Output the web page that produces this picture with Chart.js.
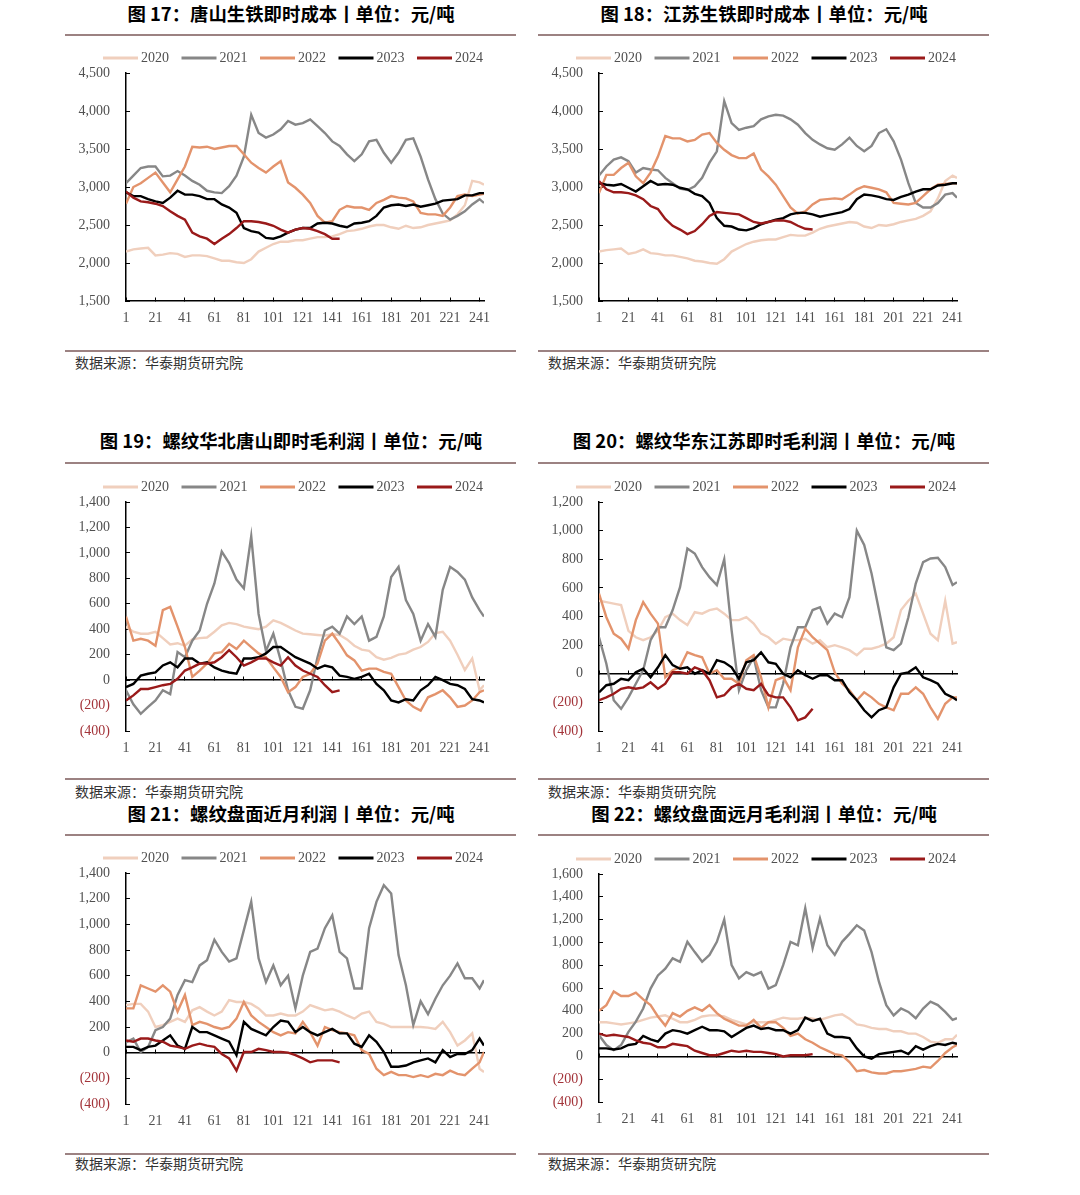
<!DOCTYPE html>
<html>
<head>
<meta charset="utf-8">
<script src="https://cdn.jsdelivr.net/npm/chart.js@4.4.1/dist/chart.umd.min.js"></script>
<style>
  body { margin: 0; background: #fff; width: 1080px; height: 1195px; position: relative; overflow: hidden; font-family: "Noto Sans CJK SC", sans-serif; }
  .title { position: absolute; width: 452px; text-align: center; font-weight: 700; font-size: 18.4px; line-height: 24px; color: #000; white-space: nowrap; }
  .rule { position: absolute; width: 451px; height: 2px; background: #9c8282; }
  .src { position: absolute; font-size: 14px; line-height: 20px; color: #333; }
  canvas { position: absolute; }
</style>
</head>
<body>
<script>
// trading day of the year (x axis), sampled every 5 days
const days = [1,6,11,16,21,26,31,36,41,46,51,56,61,66,71,76,81,86,91,96,101,106,111,116,121,126,131,136,141,146,151,156,161,166,171,176,181,186,191,196,201,206,211,216,221,226,231,236,241,244];
const xTicks = [1,21,41,61,81,101,121,141,161,181,201,221,241];
const years = ["2020", "2021", "2022", "2023", "2024"];

// 图17 唐山生铁即时成本
const c17_2020 = [2150,2180,2190,2200,2100,2110,2130,2120,2080,2100,2100,2090,2060,2030,2030,2010,2000,2050,2150,2200,2250,2280,2280,2300,2300,2320,2340,2340,2350,2380,2420,2430,2450,2480,2500,2500,2470,2450,2490,2460,2470,2500,2520,2540,2560,2640,2760,3080,3060,3030];
const c17_2021 = [3050,3150,3250,3270,3270,3140,3150,3210,3150,3080,3030,2950,2930,2920,3010,3150,3400,3950,3710,3650,3690,3760,3870,3820,3840,3890,3800,3710,3600,3540,3430,3340,3430,3600,3620,3450,3320,3450,3620,3640,3400,3100,2840,2650,2570,2620,2680,2770,2840,2790];
const c17_2022 = [2780,3000,3050,3120,3190,3060,2930,3100,3270,3530,3520,3530,3500,3520,3540,3540,3430,3320,3250,3190,3270,3340,3060,2990,2900,2790,2620,2530,2550,2700,2750,2730,2730,2700,2790,2830,2880,2860,2850,2810,2660,2640,2640,2620,2730,2880,2900,2880,2900,2910];
const c17_2023 = [2930,2880,2880,2840,2810,2790,2860,2950,2900,2900,2880,2840,2840,2770,2730,2660,2460,2420,2400,2330,2320,2350,2400,2440,2460,2460,2520,2530,2520,2490,2470,2520,2530,2550,2620,2730,2760,2770,2750,2770,2740,2760,2780,2820,2830,2840,2890,2890,2920,2920];
const c17_2024 = [2940,2860,2810,2800,2780,2750,2680,2620,2570,2400,2350,2320,2250,2320,2380,2460,2550,2550,2540,2520,2490,2440,2400,2440,2460,2450,2420,2380,2320,2320];

// 图18 江苏生铁即时成本
const c18_2020 = [2150,2170,2180,2190,2120,2140,2180,2130,2120,2100,2100,2080,2060,2030,2020,2000,1990,2050,2150,2200,2250,2280,2300,2310,2310,2340,2370,2360,2360,2400,2450,2480,2500,2520,2540,2530,2480,2460,2500,2490,2510,2540,2560,2580,2620,2680,2850,3080,3150,3120];
const c18_2021 = [3150,3270,3360,3390,3340,3190,3250,3230,3220,3120,3050,2980,2960,3010,3120,3320,3470,4130,3840,3750,3780,3800,3890,3930,3950,3940,3890,3820,3710,3620,3560,3510,3490,3560,3650,3540,3470,3540,3710,3760,3600,3360,3050,2790,2730,2730,2790,2900,2920,2860];
const c18_2022 = [2920,3160,3160,3250,3320,3140,3050,3190,3400,3670,3640,3640,3600,3620,3690,3710,3580,3490,3420,3380,3380,3440,3230,3140,3030,2880,2730,2650,2680,2770,2830,2840,2850,2840,2900,2970,3010,2990,2970,2930,2790,2780,2770,2790,2880,2970,3030,3040,3050,3050];
const c18_2023 = [3050,3030,3020,3040,2990,2940,3010,3080,3030,3040,3030,2990,2970,2910,2880,2790,2590,2490,2480,2440,2430,2460,2510,2540,2570,2590,2640,2660,2660,2640,2610,2630,2650,2670,2710,2840,2900,2890,2870,2840,2830,2870,2900,2940,2970,2970,3020,3030,3050,3050];
const c18_2024 = [3080,2970,2930,2930,2920,2890,2840,2750,2710,2580,2490,2440,2380,2420,2510,2620,2670,2660,2650,2640,2590,2540,2520,2540,2560,2560,2540,2490,2450,2440];

// 图19 螺纹华北唐山即时毛利润
const c19_2020 = [420,380,365,365,380,330,280,290,270,320,330,335,380,430,450,440,420,410,400,420,470,450,420,390,365,360,355,350,360,355,320,270,240,230,180,160,175,200,210,240,260,300,370,380,310,200,80,170,-80,-40];
const c19_2021 = [-80,-190,-265,-210,-160,-80,-110,220,180,310,390,600,760,1010,920,790,720,1130,520,230,365,155,-80,-210,-225,-80,180,390,420,365,500,440,500,310,340,500,810,890,630,520,310,440,340,710,890,850,790,650,550,500];
const c19_2022 = [500,310,325,310,270,550,575,420,260,25,75,130,210,220,285,245,310,260,210,180,100,25,-95,-55,25,50,130,310,365,285,195,155,75,90,90,65,50,-55,-160,-210,-240,-135,-110,-80,-135,-210,-200,-160,-95,-80];
const c19_2023 = [-55,-30,35,50,60,115,140,100,170,170,130,140,100,75,60,50,170,170,180,210,260,260,220,180,155,130,90,115,100,35,25,10,25,50,-30,-80,-160,-175,-150,-160,-80,-40,25,0,-30,-40,-70,-150,-160,-175];
const c19_2024 = [-160,-120,-70,-70,-55,-40,-30,10,75,100,130,130,140,180,235,180,115,140,170,170,140,115,180,115,75,50,25,-40,-95,-80];

// 图20 螺纹华东江苏即时毛利润
const c20_2020 = [510,500,490,480,300,255,235,255,300,395,420,375,340,430,420,445,455,420,375,375,395,350,280,255,210,245,235,235,245,210,235,185,200,185,165,130,175,175,190,210,255,445,510,560,420,280,235,510,210,220];
const c20_2021 = [255,70,-185,-245,-165,-70,25,235,325,325,445,605,875,840,745,675,620,800,305,-115,25,115,-115,-235,-235,-70,185,325,325,445,465,350,420,395,535,1000,900,700,445,185,165,210,395,630,780,805,810,745,620,640];
const c20_2022 = [560,395,280,245,175,375,500,420,350,-25,25,45,150,130,115,0,25,-35,-35,-70,95,130,-25,-235,-45,-25,-115,185,315,255,210,165,10,-70,-115,-185,-130,-165,-210,-235,-255,-140,-140,-95,-140,-235,-315,-210,-165,-165];
const c20_2023 = [-130,-80,-70,-35,-45,10,35,-25,45,130,60,35,45,0,25,0,95,80,45,-35,80,95,150,80,70,0,-25,25,-10,-35,-10,-10,-45,-45,-130,-185,-255,-305,-255,-235,-95,0,10,45,-25,-45,-70,-140,-165,-185];
const c20_2024 = [-185,-165,-140,-105,-95,-105,-95,-60,-105,-70,10,10,0,45,25,-45,-165,-150,-95,-70,-105,-115,-70,-150,-165,-165,-235,-325,-305,-245];

// 图21 螺纹盘面近月利润
const c21_2020 = [370,380,380,320,200,215,240,265,240,330,355,320,290,320,410,395,395,380,345,290,290,305,290,290,320,370,350,330,340,320,290,265,305,320,240,225,200,200,200,200,200,195,185,240,160,55,95,150,-125,-150];
const c21_2021 = [80,110,5,45,175,200,265,450,565,550,680,720,880,785,710,735,955,1175,735,550,680,525,600,345,600,785,810,970,1070,785,735,500,500,970,1175,1305,1240,760,525,215,400,300,420,525,600,695,580,580,500,565];
const c21_2022 = [345,345,525,500,475,525,475,320,450,215,240,225,200,185,200,265,395,290,240,200,160,135,160,150,240,160,55,200,175,160,150,135,20,-10,-125,-175,-150,-175,-175,-190,-175,-190,-165,-175,-140,-165,-175,-125,-75,5];
const c21_2023 = [45,45,20,45,55,95,135,55,30,200,160,160,135,110,85,-20,240,185,160,135,200,250,240,160,200,160,135,160,185,150,150,70,45,135,85,5,-110,-110,-100,-75,-60,-45,-75,20,-35,-10,-10,20,110,55];
const c21_2024 = [95,85,110,110,95,85,55,45,30,55,70,55,45,-10,-45,-140,5,5,30,20,5,5,0,-20,-45,-75,-60,-60,-60,-75];

// 图22 螺纹盘面远月毛利润
const c22_2020 = [300,300,290,280,290,300,320,340,350,360,330,300,300,320,350,360,360,350,320,300,280,300,300,300,320,340,330,330,340,330,320,340,360,370,330,280,270,250,240,240,220,220,200,200,170,130,120,150,150,190];
const c22_2021 = [185,100,55,100,215,305,420,595,710,770,860,830,1005,915,830,890,1005,1200,800,685,740,710,740,595,625,800,1005,975,1300,950,1210,975,890,1005,1075,1150,1105,915,655,450,360,420,390,335,420,480,450,390,320,335];
const c22_2022 = [400,450,570,530,530,560,500,450,350,270,380,350,400,430,400,450,380,330,300,270,270,320,250,300,300,250,180,200,150,120,80,50,20,10,-50,-130,-120,-140,-150,-150,-130,-130,-120,-110,-90,-100,-40,30,80,100];
const c22_2023 = [70,70,60,70,100,110,180,150,130,200,230,220,200,230,260,230,230,220,170,210,250,270,240,250,230,230,200,230,340,310,330,200,170,170,160,70,0,-20,20,30,40,50,20,90,60,90,110,100,120,110];
const c22_2024 = [200,180,190,180,170,140,120,110,80,80,110,100,90,50,30,10,10,30,50,40,50,40,40,30,20,0,10,10,10,20];

const lineColors = ["#f0cfbd", "#878787", "#e3936c", "#000000", "#9a1a1a"];
const serif = '"Liberation Serif", "Times New Roman", serif';

// layout of the 2x3 grid
const cols = [{ x: 65, l: 126, r: 484 }, { x: 538, l: 599, r: 957 }];
const rows = [
  { titleY: 13, ruleTop: 34, ruleBottom: 350, srcY: 362 },
  { titleY: 440, ruleTop: 462, ruleBottom: 778, srcY: 791 },
  { titleY: 813, ruleTop: 834, ruleBottom: 1153, srcY: 1163 }
];

const panels = [
  { col: 0, row: 0, title: "图 17：唐山生铁即时成本丨单位：元/吨", series: [c17_2020, c17_2021, c17_2022, c17_2023, c17_2024], yMin: 1500, yMax: 4500, step: 500, axisAt: 1500, t: 73, b: 301 },
  { col: 1, row: 0, title: "图 18：江苏生铁即时成本丨单位：元/吨", series: [c18_2020, c18_2021, c18_2022, c18_2023, c18_2024], yMin: 1500, yMax: 4500, step: 500, axisAt: 1500, t: 73, b: 301 },
  { col: 0, row: 1, title: "图 19：螺纹华北唐山即时毛利润丨单位：元/吨", series: [c19_2020, c19_2021, c19_2022, c19_2023, c19_2024], yMin: -400, yMax: 1400, step: 200, axisAt: 0, t: 502, b: 731 },
  { col: 1, row: 1, title: "图 20：螺纹华东江苏即时毛利润丨单位：元/吨", series: [c20_2020, c20_2021, c20_2022, c20_2023, c20_2024], yMin: -400, yMax: 1200, step: 200, axisAt: 0, t: 502, b: 731 },
  { col: 0, row: 2, title: "图 21：螺纹盘面近月利润丨单位：元/吨", series: [c21_2020, c21_2021, c21_2022, c21_2023, c21_2024], yMin: -400, yMax: 1400, step: 200, axisAt: 0, t: 873, b: 1104 },
  { col: 1, row: 2, title: "图 22：螺纹盘面远月毛利润丨单位：元/吨", series: [c22_2020, c22_2021, c22_2022, c22_2023, c22_2024], yMin: -400, yMax: 1600, step: 200, axisAt: 0, t: 874, b: 1102 }
];

// legend row drawn above the plot: line + year
const yearLegend = {
  id: "yearLegend",
  afterDraw(chart) {
    const ctx = chart.ctx;
    const y = chart.chartArea.top - 15;
    let x = 38;
    ctx.save();
    ctx.font = "14px " + serif;
    ctx.textBaseline = "middle";
    chart.data.datasets.forEach(ds => {
      ctx.strokeStyle = ds.borderColor;
      ctx.lineWidth = 3;
      ctx.beginPath();
      ctx.moveTo(x, y);
      ctx.lineTo(x + 35, y);
      ctx.stroke();
      ctx.fillStyle = "#505050";
      ctx.fillText(ds.label, x + 38, y);
      x += 78.5;
    });
    ctx.restore();
  }
};

function addDiv(cls, text, left, top) {
  const d = document.createElement("div");
  d.className = cls;
  d.textContent = text;
  d.style.left = left + "px";
  d.style.top = top + "px";
  document.body.appendChild(d);
  return d;
}

function fmt(v) {
  const s = Math.abs(v).toLocaleString("en-US");
  return v < 0 ? "(" + s + ")" : s;
}

const setXTicks = scale => { scale.ticks = xTicks.map(v => ({ value: v })); };

panels.forEach(p => {
  const c = cols[p.col], r = rows[p.row];
  addDiv("title", p.title, c.x, r.titleY - 12);
  addDiv("rule", "", c.x, r.ruleTop);
  addDiv("rule", "", c.x, r.ruleBottom);
  addDiv("src", "数据来源：华泰期货研究院", c.x + 10, r.srcY - 10);

  const left = c.l - 61, top = p.t - 33;
  const canvas = document.createElement("canvas");
  canvas.width = c.r + 21 - left;
  canvas.height = p.b + 34 - top;
  canvas.style.left = left + "px";
  canvas.style.top = top + "px";
  document.body.appendChild(canvas);

  new Chart(canvas, {
    type: "line",
    data: {
      datasets: p.series.map((vals, i) => ({
        label: years[i],
        data: vals.map((v, k) => ({ x: days[k], y: v })),
        borderColor: lineColors[i],
        borderWidth: 2.4,
        pointRadius: 0,
        tension: 0,
        order: 4 - i
      }))
    },
    options: {
      responsive: false,
      animation: false,
      layout: { padding: { top: 33, right: 21, bottom: 4, left: 0 } },
      plugins: { legend: { display: false }, tooltip: { enabled: false } },
      scales: {
        x: {
          type: "linear", min: 1, max: 244,
          afterBuildTicks: setXTicks,
          afterFit: s => { s.height = 30; },
          grid: { display: false, drawTicks: false },
          border: { display: false },
          ticks: { color: "#505050", font: { family: serif, size: 14 }, padding: 9, maxRotation: 0, autoSkip: false }
        },
        x2: {
          type: "linear", position: { y: p.axisAt }, min: 1, max: 244,
          afterBuildTicks: setXTicks,
          grid: { drawOnChartArea: false, drawTicks: true, tickLength: -4, color: "#000", tickColor: "#000" },
          border: { color: "#000", width: 1.5 },
          ticks: { display: false }
        },
        y: {
          min: p.yMin, max: p.yMax,
          afterFit: s => { s.width = 61; },
          grid: { drawOnChartArea: false, drawTicks: true, tickLength: -4, color: "#000", tickColor: "#000" },
          border: { color: "#000", width: 1.5 },
          ticks: {
            stepSize: p.step,
            padding: 20,
            callback: v => fmt(v),
            color: ctx => ctx.tick.value < 0 ? "#a3343a" : "#505050",
            font: { family: serif, size: 14 }
          }
        }
      }
    },
    plugins: [yearLegend]
  });
});
</script>
</body>
</html>
